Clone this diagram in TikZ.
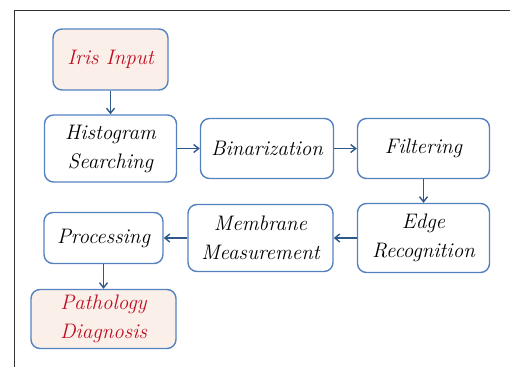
\documentclass[tikz,border=0pt]{standalone}
\usepackage{fontspec}
\usepackage{tikz}
\usetikzlibrary{shapes, arrows.meta, positioning}
\definecolor{boxblue}{RGB}{84,130,192}
\definecolor{linkblue}{RGB}{47,88,138}
\definecolor{inputred}{RGB}{190,14,34}
\definecolor{inputfill}{RGB}{251,239,233}
\definecolor{framegray}{RGB}{50,50,50}
\tikzstyle{stage} = [rectangle, draw=boxblue, line width=1.4pt, rounded corners=9pt,
    fill=white, align=center, inner sep=0pt, font=\fontsize{21}{29}\selectfont\itshape]
\tikzstyle{terminal} = [stage, fill=inputfill, text=inputred]
\tikzstyle{line} = [draw=linkblue, line width=1.4pt, -{Straight Barb[length=5pt, width=8pt]}]

\begin{document}
\begin{tikzpicture}[x=1pt, y=-1pt, node distance=156.5pt]
    \useasboundingbox (0,0) rectangle (510,367);
    % Frame
    \coordinate (corner) at (14,10.5);
    \coordinate (frameright) at (510,10.5);
    \coordinate (framebottom) at (14,367);
    \draw [framegray, line width=0.9pt] (frameright) -- (corner) -- (framebottom);
    % Nodes
    \node [terminal, minimum width=115pt, minimum height=61pt] (iris) at (110.5,59.5) {Iris Input};
    \node [stage, minimum width=132pt, minimum height=67pt, below of=iris, node distance=89pt] (hist) {Histogram\\Searching};
    \node [stage, minimum width=133pt, minimum height=60pt, right of=hist] (bin) {Binarization};
    \node [stage, minimum width=132pt, minimum height=60pt, right of=bin] (filt) {Filtering};
    \node [stage, minimum width=132pt, minimum height=69pt, below of=filt, node distance=89.5pt] (edge) {Edge\\Recognition};
    \node [stage, minimum width=145pt, minimum height=67pt, left of=edge, node distance=163pt] (memb) {Membrane\\Measurement};
    \node [stage, minimum width=119pt, minimum height=51pt, left of=memb, node distance=157pt] (proc) {Processing};
    \node [terminal, minimum width=145pt, minimum height=59pt, below of=proc, node distance=81pt] (diag) {Pathology\\Diagnosis};
    % Edges
    \path [line] (iris) -- (hist);
    \path [line] (hist) -- (bin);
    \path [line] (bin) -- (filt);
    \path [line] (filt) -- (edge);
    \path [line] (edge) -- (memb);
    \path [line] (memb) -- (proc);
    \path [line] (proc) -- (diag);
\end{tikzpicture}
\end{document}
